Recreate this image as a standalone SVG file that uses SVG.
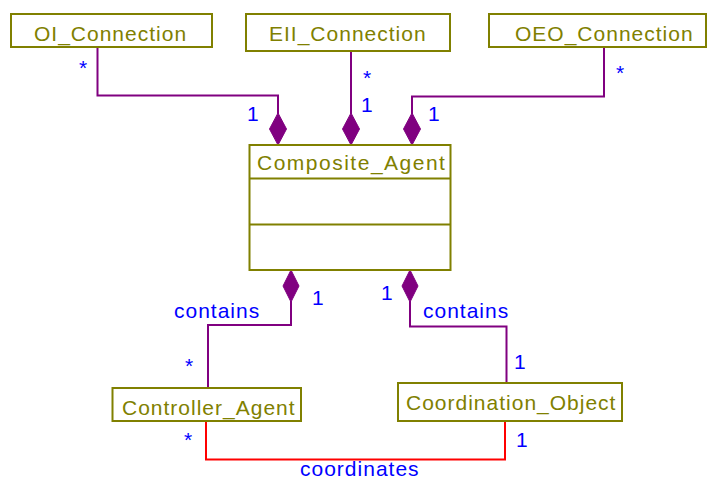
<svg xmlns="http://www.w3.org/2000/svg" width="709" height="482" viewBox="0 0 709 482">
  <style>
    .box { fill: #ffffff; stroke: #808000; stroke-width: 2; }
    .name { font-family: "Liberation Sans", Arial, sans-serif; font-size: 21px; fill: #808000; letter-spacing: 1px; }
    .wide { letter-spacing: 1.5px; }
    .agg { fill: none; stroke: #800080; stroke-width: 2; }
    .assoc { fill: none; stroke: #ff0000; stroke-width: 2; }
    .diamond { fill: #800080; stroke: #800080; stroke-width: 1; }
    .lbl { font-family: "Liberation Sans", Arial, sans-serif; font-size: 21px; fill: #0000ff; letter-spacing: 1px; }
  </style>
  <rect width="709" height="482" fill="#ffffff"/>

  <!-- connectors -->
  <g id="connectors">
    <!-- OI_Connection to Composite_Agent -->
    <polyline class="agg" points="97.5,47 97.5,95.5 278,95.5 278,114"/>
    <polygon class="diamond" points="278,113 286.5,129 278,145 269.5,129"/>
    <!-- EII_Connection to Composite_Agent -->
    <polyline class="agg" points="351,51 351,114"/>
    <polygon class="diamond" points="351,113 359.5,129 351,145 342.5,129"/>
    <!-- OEO_Connection to Composite_Agent -->
    <polyline class="agg" points="604,47 604,96.5 412,96.5 412,114"/>
    <polygon class="diamond" points="412,113 420.5,129 412,145 403.5,129"/>
    <!-- Composite_Agent contains Controller_Agent -->
    <polygon class="diamond" points="291,270 299,286 291,302 283,286"/>
    <polyline class="agg" points="291,301 291,325 208,325 208,388"/>
    <!-- Composite_Agent contains Coordination_Object -->
    <polygon class="diamond" points="410,270 418,286 410,302 402,286"/>
    <polyline class="agg" points="410,301 410,326.5 506.5,326.5 506.5,383"/>
    <!-- Controller_Agent coordinates Coordination_Object -->
    <polyline class="assoc" points="206,421 206,459.5 505,459.5 505,421"/>

    <!-- multiplicities and role names -->
    <text class="lbl" x="79" y="75">*</text>
    <text class="lbl" x="247" y="121">1</text>
    <text class="lbl" x="363" y="85">*</text>
    <text class="lbl" x="361" y="112">1</text>
    <text class="lbl" x="616" y="80">*</text>
    <text class="lbl" x="428" y="121">1</text>
    <text class="lbl" x="312" y="305">1</text>
    <text class="lbl" x="174" y="318">contains</text>
    <text class="lbl" x="185" y="373">*</text>
    <text class="lbl" x="381" y="300">1</text>
    <text class="lbl" x="423" y="318">contains</text>
    <text class="lbl" x="514" y="369">1</text>
    <text class="lbl" x="184" y="447">*</text>
    <text class="lbl" x="516" y="447">1</text>
    <text class="lbl" x="300" y="476">coordinates</text>
  </g>

  <g id="oi-connection">
    <rect class="box" x="11" y="14" width="201" height="33"/>
    <text class="name" x="34" y="41">OI_Connection</text>
  </g>

  <g id="eii-connection">
    <rect class="box" x="246" y="14" width="204" height="37"/>
    <text class="name" x="269" y="41">EII_Connection</text>
  </g>

  <g id="oeo-connection">
    <rect class="box" x="489" y="14" width="217" height="33"/>
    <text class="name" x="515" y="41">OEO_Connection</text>
  </g>

  <g id="composite-agent">
    <rect class="box" x="249.5" y="145" width="201" height="125"/>
    <line class="box" x1="249.5" y1="178.5" x2="450.5" y2="178.5"/>
    <line class="box" x1="249.5" y1="224.5" x2="450.5" y2="224.5"/>
    <text class="name wide" x="257" y="170">Composite_Agent</text>
  </g>

  <g id="controller-agent">
    <rect class="box" x="112.5" y="388" width="188.5" height="33"/>
    <text class="name" x="122" y="415">Controller_Agent</text>
  </g>

  <g id="coordination-object">
    <rect class="box" x="398" y="383" width="224" height="38"/>
    <text class="name" x="406" y="410">Coordination_Object</text>
  </g>
</svg>
